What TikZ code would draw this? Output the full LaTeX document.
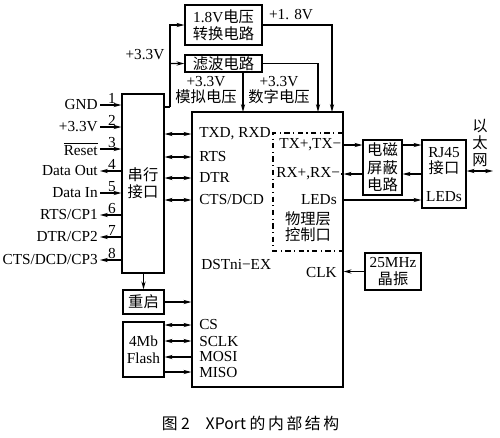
\documentclass[tikz,border=0pt]{standalone}
\usepackage{fontspec}
\setmainfont{Liberation Serif}
\newfontfamily\zhfont{Noto Sans CJK SC}
\newcommand{\zh}[1]{{\zhfont #1}}
\usetikzlibrary{arrows.meta}
\tikzset{
    box/.style={draw, line width=0.7pt, inner sep=0pt, align=center},
    lbl/.style={anchor=west, inner sep=1pt},
    pin/.style={anchor=east, inner sep=1pt},
    num/.style={anchor=south, inner sep=0.3pt}
}
\begin{document}
\begin{tikzpicture}[font=\fontsize{8.7}{9.5}\selectfont, >={Stealth[length=4.5pt,width=2.4pt]}, line width=0.6pt]
        \useasboundingbox (0,0) rectangle (10,-8.74);

        % power:
        \node(PWR)[box, minimum width=1.54cm, minimum height=0.80cm, xshift=4.47cm, yshift=-0.50cm]{1.8V\zh{电压}\\\zh{转换电路}};
        \node(FLT)[box, minimum width=1.54cm, minimum height=0.34cm, xshift=4.47cm, yshift=-1.27cm]{\zh{滤波电路}};
        \node(V33L)[xshift=2.90cm, yshift=-1.10cm]{+3.3V};
        \node(V18L)[xshift=5.82cm, yshift=-0.30cm]{+1. 8V};
        \node(ANL)[align=center, xshift=4.12cm, yshift=-1.80cm]{+3.3V\\\zh{模拟电压}};
        \node(DGL)[align=center, xshift=5.58cm, yshift=-1.80cm]{+3.3V\\\zh{数字电压}};

        % serial:
        \node(SER)[box, minimum width=0.84cm, minimum height=3.58cm, xshift=2.86cm, yshift=-3.67cm]{\zh{串行}\\\zh{接口}};
        \coordinate(J1) at (3.40,-2.14);
        \coordinate(J2) at (3.40,-1.27);
        \draw (SER.east |- J1) -- (J1);
        \draw[->] (J1) |- (PWR.west);
        \draw[->] (J2) -- (FLT.west);

        % main:
        \node(MAIN)[box, minimum width=3.02cm, minimum height=5.50cm, xshift=5.35cm, yshift=-4.99cm]{};
        \coordinate(AN) at (4.86,-2.24);
        \coordinate(DG) at (6.36,-2.24);
        \coordinate(D18) at (6.64,-2.24);
        \draw[->] (FLT.south -| AN) -- (AN);
        \draw[->] (FLT.east) -| (DG);
        \draw[->] (PWR.east) -| (D18);

        % pins:
        \node(GND)[pin, xshift=2.0cm, yshift=-2.10cm]{GND};
        \node(N1)[num, xshift=2.24cm, yshift=-2.10cm]{1};
        \draw[->] (GND) -- (SER.west |- GND);
        \node(VCC)[pin, xshift=2.0cm, yshift=-2.54cm]{+3.3V};
        \node(N2)[num, xshift=2.24cm, yshift=-2.54cm]{2};
        \draw[->] (VCC) -- (SER.west |- VCC);
        \node(RES)[pin, xshift=2.0cm, yshift=-2.98cm]{$\overline{\mbox{Reset}}$};
        \node(N3)[num, xshift=2.24cm, yshift=-2.98cm]{3};
        \draw[->] (RES) -- (SER.west |- RES);
        \node(DOUT)[pin, xshift=2.0cm, yshift=-3.42cm]{Data Out};
        \node(N4)[num, xshift=2.24cm, yshift=-3.42cm]{4};
        \draw[->] (SER.west |- DOUT) -- (DOUT);
        \node(DIN)[pin, xshift=2.0cm, yshift=-3.86cm]{Data In};
        \node(N5)[num, xshift=2.24cm, yshift=-3.86cm]{5};
        \draw[->] (DIN) -- (SER.west |- DIN);
        \node(CP1)[pin, xshift=2.0cm, yshift=-4.30cm]{RTS/CP1};
        \node(N6)[num, xshift=2.24cm, yshift=-4.30cm]{6};
        \draw[->] (SER.west |- CP1) -- (CP1);
        \node(CP2)[pin, xshift=2.0cm, yshift=-4.74cm]{DTR/CP2};
        \node(N7)[num, xshift=2.24cm, yshift=-4.74cm]{7};
        \draw[->] (SER.west |- CP2) -- (CP2);
        \node(CP3)[pin, xshift=2.0cm, yshift=-5.20cm]{CTS/DCD/CP3};
        \node(N8)[num, xshift=2.24cm, yshift=-5.20cm]{8};
        \draw[->] (SER.west |- CP3) -- (CP3);

        % serial to main:
        \node(TXD)[lbl, xshift=3.94cm, yshift=-2.68cm]{TXD, RXD};
        \draw[<->] (SER.east |- TXD) -- (MAIN.west |- TXD);
        \node(RTS)[lbl, xshift=3.94cm, yshift=-3.14cm]{RTS};
        \draw[<->] (SER.east |- RTS) -- (MAIN.west |- RTS);
        \node(DTR)[lbl, xshift=3.94cm, yshift=-3.56cm]{DTR};
        \draw[<->] (SER.east |- DTR) -- (MAIN.west |- DTR);
        \node(CTS)[lbl, xshift=3.94cm, yshift=-4.00cm]{CTS/DCD};
        \draw[<->] (SER.east |- CTS) -- (MAIN.west |- CTS);
        \node(DST)[lbl, xshift=3.98cm, yshift=-5.30cm]{DSTni−EX};

        % phy:
        \coordinate(PH1) at (6.86,-2.66);
        \coordinate(PH2) at (5.46,-2.66);
        \coordinate(PH3) at (5.46,-5.02);
        \coordinate(PH4) at (6.86,-5.02);
        \draw[dash dot] (PH1) -- (PH2) -- (PH3) -- (PH4);
        \node(TX)[lbl, inner sep=0.5pt, xshift=5.56cm, yshift=-2.90cm]{TX+,TX−};
        \node(RX)[lbl, inner sep=0.5pt, xshift=5.50cm, yshift=-3.48cm]{RX+,RX−};
        \node(LED)[pin, xshift=6.78cm, yshift=-4.00cm]{LEDs};
        \node(PHY)[align=center, xshift=6.16cm, yshift=-4.54cm]{\zh{物理层}\\[-0.5pt]\zh{控制口}};
        \node(CLK)[pin, xshift=6.78cm, yshift=-5.46cm]{CLK};

        % ethernet:
        \node(EMI)[box, minimum width=0.78cm, minimum height=1.10cm, xshift=7.65cm, yshift=-3.35cm]{\zh{电磁}\\[0.5pt]\zh{屏蔽}\\[0.5pt]\zh{电路}};
        \node(RJ)[box, minimum width=0.88cm, minimum height=1.36cm, xshift=8.88cm, yshift=-3.48cm]{};
        \node(RJT)[align=center, xshift=8.88cm, yshift=-3.22cm]{RJ45\\\zh{接口}};
        \node(RJL)[xshift=8.88cm, yshift=-3.94cm]{LEDs};
        \node(ETH)[align=center, xshift=9.60cm, yshift=-2.86cm]{\zh{以}\\\zh{太}\\\zh{网}};
        \coordinate(ETHE) at (9.86,-3.42);
        \draw[->] (TX.east) -- (EMI.west |- TX);
        \draw[->] (EMI.west |- RX) -- (MAIN.east |- RX);
        \draw (MAIN.east |- RX) -- (RX.east);
        \draw[->] (MAIN.east |- LED) -- (RJ.west |- LED);
        \draw[->] (EMI.east |- TX) -- (RJ.west |- TX);
        \draw[->] (RJ.west |- RX) -- (EMI.east |- RX);
        \draw[<->] (RJ.east |- ETHE) -- (ETHE);

        % clock:
        \node(OSC)[box, minimum width=1.12cm, minimum height=0.74cm, xshift=7.86cm, yshift=-5.43cm]{25MHz\\\zh{晶振}};
        \draw[->] (OSC.west) -- (MAIN.east |- OSC.west);

        % reset, flash:
        \node(RST)[box, minimum width=0.82cm, minimum height=0.48cm, xshift=2.87cm, yshift=-6.04cm]{\zh{重启}};
        \draw[->] (RST.north |- SER.south) -- (RST.north);
        \draw[->] (RST.east) -- (MAIN.west |- RST.east);
        \node(FLS)[box, minimum width=0.82cm, minimum height=1.10cm, xshift=2.87cm, yshift=-6.99cm]{4Mb\\Flash};
        \node(CS)[lbl, xshift=3.94cm, yshift=-6.50cm]{CS};
        \draw[<->] (FLS.east |- CS) -- (MAIN.west |- CS);
        \node(SCLK)[lbl, xshift=3.94cm, yshift=-6.82cm]{SCLK};
        \draw[<->] (FLS.east |- SCLK) -- (MAIN.west |- SCLK);
        \node(MOSI)[lbl, xshift=3.94cm, yshift=-7.14cm]{MOSI};
        \draw[->] (MAIN.west |- MOSI) -- (FLS.east |- MOSI);
        \node(MISO)[lbl, xshift=3.94cm, yshift=-7.44cm]{MISO};
        \draw[->] (FLS.east |- MISO) -- (MAIN.west |- MISO);

        % caption:
        \node(CAP)[font=\zhfont\fontsize{9}{10}\selectfont, xshift=5.01cm, yshift=-8.46cm]{图\ 2\quad XPort\ 的\,内\,部\,结\,构};

    \end{tikzpicture}
\end{document}
